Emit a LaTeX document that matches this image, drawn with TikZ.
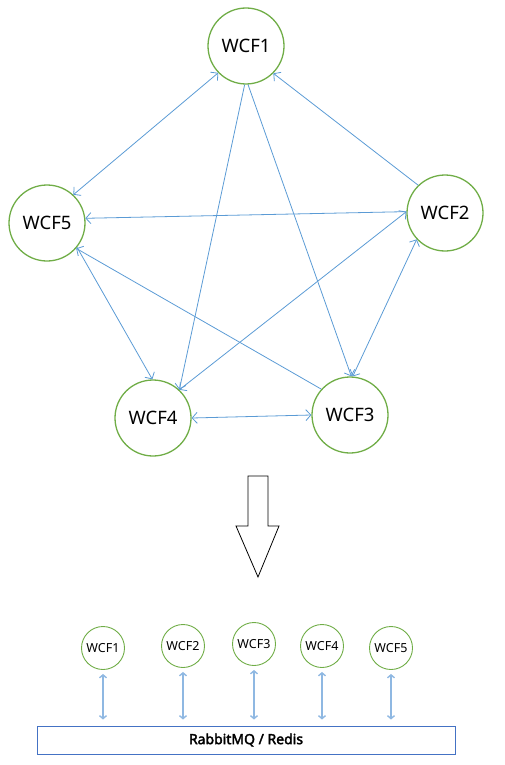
\documentclass[tikz,border=0pt]{standalone}
\usepackage{fontspec}
\setsansfont{Noto Sans}[AutoFakeBold=2.5]
\usetikzlibrary{arrows.meta}
\definecolor{wcfgreen}{HTML}{70AD47}
\definecolor{linkblue}{HTML}{5B9BD5}
\definecolor{busblue}{HTML}{4472C4}
\definecolor{paleblue}{HTML}{8FB8E2}

\begin{document}
\begin{tikzpicture}[x=1pt,y=-1pt,>={Straight Barb[length=5pt,width=11pt]},
    main node/.style={circle,draw=wcfgreen,line width=1.3pt,minimum size=76pt,inner sep=0pt,font=\sffamily\fontsize{18.5}{20}\selectfont},
    small node/.style={circle,draw=wcfgreen,line width=0.9pt,minimum size=43pt,inner sep=0pt,font=\sffamily\fontsize{12.5}{14}\selectfont},
    link/.style={draw=linkblue,line width=0.8pt},
    bus link/.style={draw=paleblue,line width=1.4pt,<->,>={Straight Barb[length=3pt,width=7pt]},shorten <=4pt,shorten >=6pt}]

    \useasboundingbox (0,0) rectangle (504,765);

    % mesh of services
    \node[main node] (w1) at (246,46)  {WCF1};
    \node[main node] (w2) at (445,213) {WCF2};
    \node[main node] (w3) at (350,415) {WCF3};
    \node[main node] (w4) at (153,418) {WCF4};
    \node[main node] (w5) at (47,223)  {WCF5};

    \path[link]
        (w1.224) edge[<->] (w5.47)
        (w2.134) edge[->]  (w1.315)
        (w2.178) edge[->]  (w5.7)
        (w1.268) edge[->]  (w4.47)
        (w1.273) edge[->]  (w3.88)
        (w5.321) edge[->]  (w4.91)
        (w3.138) edge[->]  (w5.319)
        (w2.223) edge[<->] (w3.86)
        (w2.178) edge[<->] (w4.47)
        (w4.0)   edge[<->] (w3.180)
    ;

    % big arrow
    \draw[line width=0.8pt,fill=white] (248,476) -- (268,476) -- (268,526) -- (279,526) -- (258,577) -- (236,526) -- (248,526) -- cycle;

    % services on the bus
    \node[small node] (q1) at (103,648) {WCF1};
    \node[small node] (q2) at (183,646) {WCF2};
    \node[small node] (q3) at (254,644) {WCF3};
    \node[small node] (q4) at (322,646) {WCF4};
    \node[small node] (q5) at (391,648) {WCF5};

    \node[draw=busblue,line width=0.9pt,minimum width=418pt,minimum height=28pt,inner sep=0pt,font=\sffamily\bfseries\fontsize{14}{16}\selectfont] (mq) at (246,740) {RabbitMQ / Redis};

    \path[bus link]
        (q1) edge (q1 |- mq.north)
        (q2) edge (q2 |- mq.north)
        (q3) edge (q3 |- mq.north)
        (q4) edge (q4 |- mq.north)
        (q5) edge (q5 |- mq.north)
    ;
\end{tikzpicture}
\end{document}
